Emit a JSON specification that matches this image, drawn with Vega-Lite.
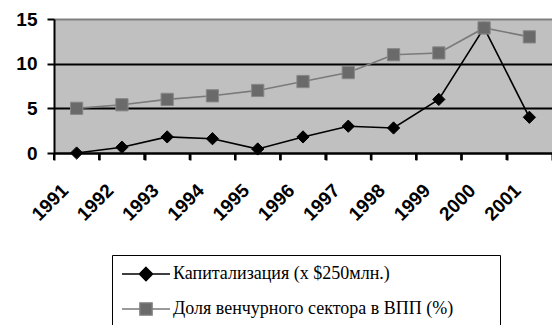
{
  "$schema": "https://vega.github.io/schema/vega-lite/v6.json",
  "autosize": "none",
  "padding": {"left": 54, "top": 19, "right": 0, "bottom": 172},
  "width": 498,
  "height": 134,
  "data": {"values": [
    {"year": "1991", "series": "Капитализация (x $250млн.)", "value": 0},
    {"year": "1992", "series": "Капитализация (x $250млн.)", "value": 0.65},
    {"year": "1993", "series": "Капитализация (x $250млн.)", "value": 1.8},
    {"year": "1994", "series": "Капитализация (x $250млн.)", "value": 1.6},
    {"year": "1995", "series": "Капитализация (x $250млн.)", "value": 0.45},
    {"year": "1996", "series": "Капитализация (x $250млн.)", "value": 1.8},
    {"year": "1997", "series": "Капитализация (x $250млн.)", "value": 3.0},
    {"year": "1998", "series": "Капитализация (x $250млн.)", "value": 2.8},
    {"year": "1999", "series": "Капитализация (x $250млн.)", "value": 6.0},
    {"year": "2000", "series": "Капитализация (x $250млн.)", "value": 14.0},
    {"year": "2001", "series": "Капитализация (x $250млн.)", "value": 4.0},
    {"year": "1991", "series": "Доля венчурного сектора в ВПП (%)", "value": 5.0},
    {"year": "1992", "series": "Доля венчурного сектора в ВПП (%)", "value": 5.4},
    {"year": "1993", "series": "Доля венчурного сектора в ВПП (%)", "value": 6.0},
    {"year": "1994", "series": "Доля венчурного сектора в ВПП (%)", "value": 6.4},
    {"year": "1995", "series": "Доля венчурного сектора в ВПП (%)", "value": 7.0},
    {"year": "1996", "series": "Доля венчурного сектора в ВПП (%)", "value": 8.0},
    {"year": "1997", "series": "Доля венчурного сектора в ВПП (%)", "value": 9.0},
    {"year": "1998", "series": "Доля венчурного сектора в ВПП (%)", "value": 11.0},
    {"year": "1999", "series": "Доля венчурного сектора в ВПП (%)", "value": 11.2},
    {"year": "2000", "series": "Доля венчурного сектора в ВПП (%)", "value": 14.0},
    {"year": "2001", "series": "Доля венчурного сектора в ВПП (%)", "value": 13.0}
  ]},
  "encoding": {
    "x": {
      "field": "year", "type": "ordinal",
      "scale": {"type": "band", "paddingInner": 0, "paddingOuter": 0},
      "axis": {
        "title": null, "tickBand": "extent", "labelAngle": -45, "labelAlign": "right", "labelBaseline": "middle",
        "labelOffset": -12, "labelPadding": 27, "labelFont": "Liberation Sans", "labelFontWeight": "bold", "labelFontSize": 19,
        "labelColor": "black", "ticks": true, "tickColor": "black", "tickSize": 7, "tickWidth": 2,
        "domainColor": "black", "domainWidth": 2, "grid": false
      }
    },
    "y": {
      "field": "value", "type": "quantitative",
      "scale": {"domain": [0, 15], "nice": false},
      "axis": {
        "title": null, "values": [0, 5, 10, 15], "labelFont": "Liberation Sans", "labelFontWeight": "bold", "labelFontSize": 19,
        "labelColor": "black", "labelPadding": 10, "ticks": true, "tickColor": "black", "tickSize": 7, "tickWidth": 2,
        "domainColor": "black", "domainWidth": 2,
        "grid": true, "gridWidth": 2,
        "gridColor": {"condition": {"test": "datum.value === 15", "value": "#808080"}, "value": "black"}
      }
    }
  },
  "layer": [
    {
      "mark": {"type": "rule", "color": "black", "strokeWidth": 2, "clip": false},
      "encoding": {
        "x": {"field": "year", "type": "ordinal", "bandPosition": 0},
        "y": {"datum": 0},
        "y2": {"datum": -0.78}
      }
    },
    {
      "mark": {"type": "line", "strokeWidth": 1.6},
      "encoding": {
        "color": {
          "field": "series", "type": "nominal",
          "scale": {"domain": ["Капитализация (x $250млн.)", "Доля венчурного сектора в ВПП (%)"], "range": ["black", "#7a7a7a"]},
          "legend": {
            "orient": "none", "legendX": 58, "legendY": 236, "direction": "vertical",
            "title": "\u2800", "titleOrient": "right", "titleAngle": 0, "titleFontSize": 1, "titlePadding": 36,
            "strokeColor": "black", "padding": 10, "rowPadding": 15,
            "symbolSize": 100, "symbolOffset": 15, "labelOffset": 18, "symbolStrokeWidth": 1.6,
            "labelFont": "Liberation Serif", "labelFontSize": 18, "labelColor": "black", "labelLimit": 400,
            "encode": {
              "symbols": {"update": {
                "shape": {"signal": "datum.value === 'Капитализация (x $250млн.)' ? 'M-4.8,0L-1.3,0M1.3,0L4.8,0M0,-1.3L1.3,0L0,1.3L-1.3,0Z' : 'M-4.8,0L-1.2,0M1.2,0L4.8,0M-1.2,-1.2L1.2,-1.2L1.2,1.2L-1.2,1.2Z'"},
                "fill": {"signal": "datum.value === 'Капитализация (x $250млн.)' ? 'black' : '#6a6a6a'"},
                "stroke": {"signal": "datum.value === 'Капитализация (x $250млн.)' ? 'black' : '#888888'"},
                "strokeWidth": {"value": 1.6}
              }}
            }
          }
        }
      }
    },
    {
      "transform": [{"filter": "datum.series === 'Капитализация (x $250млн.)'"}],
      "mark": {"type": "point", "shape": "diamond", "filled": true, "color": "black", "stroke": "black", "strokeWidth": 1, "opacity": 1, "size": 150}
    },
    {
      "transform": [{"filter": "datum.series === 'Доля венчурного сектора в ВПП (%)'"}],
      "mark": {"type": "point", "shape": "square", "filled": true, "color": "#6a6a6a", "stroke": "#888888", "strokeWidth": 1, "opacity": 1, "size": 150}
    }
  ],
  "config": {
    "background": "white",
    "view": {"fill": "#C0C0C0", "stroke": null},
    "axis": {"ticks": true, "tickSize": 7, "tickColor": "black", "tickWidth": 2}
  }
}
